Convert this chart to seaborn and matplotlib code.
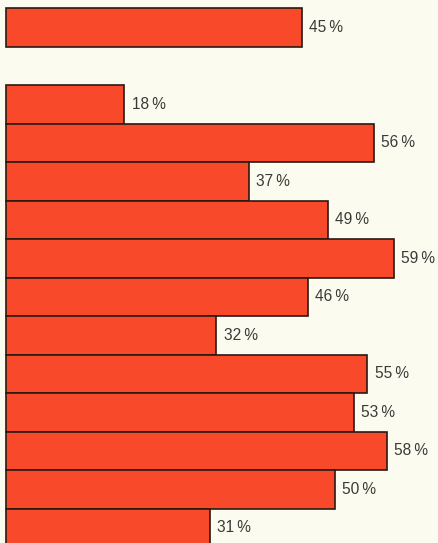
import matplotlib
matplotlib.use("Agg")
import matplotlib.pyplot as plt
import seaborn as sns
import pandas as pd

# Headline share and the breakdown below it (percent)
headline = [45]
breakdown = [18, 56, 37, 49, 59, 46, 32, 55, 53, 58, 50, 31]

BAR_COLOR = "#f84a2b"
EDGE_COLOR = "#2b1a12"
BG_COLOR = "#fbfbef"
TEXT_COLOR = "#3a3a38"

# Row positions: headline on row 0, one empty row, then the breakdown
rows = [0] + [2 + i for i in range(len(breakdown))]
df = pd.DataFrame({"share": headline + breakdown, "row": rows})

sns.set_theme(style="white")
plt.rcParams["font.family"] = ["Liberation Sans", "DejaVu Sans"]

fig = plt.figure(figsize=(4.39, 5.43), dpi=100, facecolor=BG_COLOR)
ax = fig.add_axes([0, 0, 1, 1])
ax.set_facecolor(BG_COLOR)

sns.barplot(data=df, x="share", y="row", orient="h", native_scale=True,
            width=1.0, color=BAR_COLOR, saturation=1, edgecolor=EDGE_COLOR,
            linewidth=1.2, ax=ax)

for share, row in zip(df["share"], df["row"]):
    ax.annotate(f"{share}\u2009%", xy=(share, row), xytext=(5.2, 0),
                textcoords="offset points", ha="left", va="center",
                fontsize=11.2, color=TEXT_COLOR)

ax.set_xlim(-0.92, 65.9)
ax.set_ylim(13.39, -0.714)
ax.set_axis_off()

fig.savefig("out.png", dpi=100, facecolor=BG_COLOR)
